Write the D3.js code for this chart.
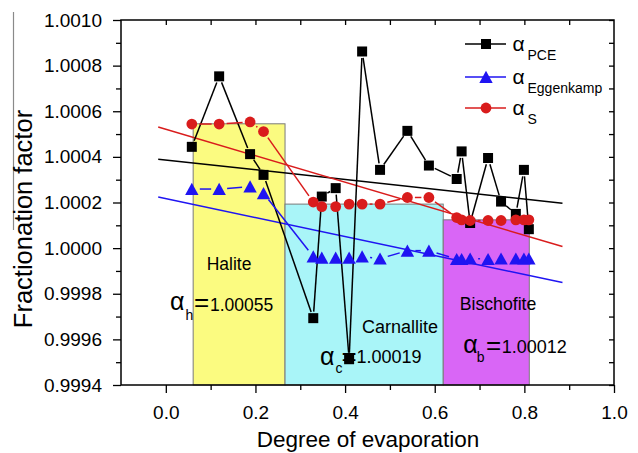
<!DOCTYPE html>
<html><head><meta charset="utf-8">
<script src="https://cdn.jsdelivr.net/npm/d3@7"></script>
<style>
body{margin:0;background:#fff}
svg{display:block}
text{font-family:"Liberation Sans",Arial,Helvetica,sans-serif;fill:#000}
</style>
</head><body>
<svg id="c" width="638" height="453"></svg>
<script>
// ---- data ----
const evap = [0.058, 0.119, 0.188, 0.218,
  0.329, 0.348, 0.379, 0.409, 0.438, 0.478, 0.539, 0.587,
  0.649, 0.660, 0.679, 0.719, 0.748, 0.781, 0.799, 0.810];
const alphaPCE = [1.000444, 1.000753, 1.000412, 1.000321,
  0.999693, 1.000226, 1.000263, 0.999513, 1.000862, 1.000343, 1.000514, 1.000362,
  1.000303, 1.000424, 1.000110, 1.000395, 1.000204, 1.000150, 1.000343, 1.000083];
const alphaEgg = [1.000259, 1.000259, 1.000270, 1.000241,
  0.999963, 0.999958, 0.999958, 0.999958, 0.999963, 0.999954, 0.999989, 0.999989,
  0.999952, 0.999952, 0.999954, 0.999952, 0.999954, 0.999954, 0.999954, 0.999954];
const alphaS = [1.000544, 1.000544, 1.000553, 1.000511,
  1.000202, 1.000182, 1.000182, 1.000193, 1.000193, 1.000193, 1.000222, 1.000222,
  1.000134, 1.000124, 1.000121, 1.000121, 1.000121, 1.000124, 1.000124, 1.000124];
const fitX = [-0.017, 0.885];
const fitPCE = [1.000390, 1.000197];
const fitEgg = [1.000224, 0.999849];
const fitS = [1.000531, 1.000007];
const zoneNames = ["Halite", "Carnallite", "Bischofite"];
const zoneStart = [0.061, 0.266, 0.619];
const zoneEnd = [0.266, 0.619, 0.811];
const zoneTop = [1.000545, 1.000193, 1.000124];
const zoneColors = ["#fbfb80", "#a9f5f8", "#d966f6"];
const xTicks = [0.0, 0.2, 0.4, 0.6, 0.8, 1.0];
const xMinor = [0.1, 0.3, 0.5, 0.7, 0.9];
const yTicks = [0.9994, 0.9996, 0.9998, 1.0000, 1.0002, 1.0004, 1.0006, 1.0008, 1.0010];
const yMinor = [0.9995, 0.9997, 0.9999, 1.0001, 1.0003, 1.0005, 1.0007, 1.0009];

const cBlack = "#000", cBlue = "#1f14f2", cRed = "#d91c1c";

// ---- setup ----
const svg = d3.select("#c");
const L = 121, R = 614, T = 20, B = 385;
const x = d3.scaleLinear().domain([-0.1, 1.0]).range([L, R]);
const y = d3.scaleLinear().domain([0.9994, 1.0010]).range([B, T]);

// artifact line left of title
svg.append("line").attr("x1", 13.5).attr("x2", 13.5).attr("y1", 12).attr("y2", 230)
  .attr("stroke", "#8a8a8a").attr("stroke-width", 1.2);

// zones
svg.append("g").selectAll("rect").data(zoneNames).join("rect")
  .attr("x", (d, i) => x(zoneStart[i]))
  .attr("width", (d, i) => x(zoneEnd[i]) - x(zoneStart[i]))
  .attr("y", (d, i) => y(zoneTop[i]))
  .attr("height", (d, i) => B - y(zoneTop[i]))
  .attr("fill", (d, i) => zoneColors[i])
  .attr("stroke", "#7a7a7a").attr("stroke-width", 1);

// zone labels
const lab = svg.append("g");
function t(txt, px, py, size, anchor) {
  lab.append("text").attr("x", px).attr("y", py).attr("font-size", size)
    .attr("text-anchor", anchor || "start").text(txt);
}
t("Halite", 229, 270, 17.5, "middle");
t("Carnallite", 400, 333, 18, "middle");
t("Bischofite", 498, 310, 17.7, "middle");
// alpha_h
t("α", 170, 310, 25); t("h", 185.5, 320, 14); t("=", 194, 311, 26); t("1.00055", 210, 311, 17.5);
// alpha_c
t("α", 320, 365, 25); t("c", 335.5, 373.3, 14); t("=", 341.5, 365, 26); t("1.00019", 356.5, 363.3, 18);
// alpha_b
t("α", 463.3, 353.3, 25); t("b", 476.7, 361.7, 14); t("=", 486, 354, 26); t("1.00012", 501.7, 353.3, 18);

// fit lines
const fits = [[fitPCE, cBlack], [fitEgg, cBlue], [fitS, cRed]];
svg.append("g").selectAll("line").data(fits).join("line")
  .attr("x1", x(fitX[0])).attr("x2", x(fitX[1]))
  .attr("y1", d => y(d[0][0])).attr("y2", d => y(d[0][1]))
  .attr("stroke", d => d[1]).attr("stroke-width", 1.5);

// gapped connecting segments
function segs(ys, gap) {
  const out = [];
  for (let i = 0; i < evap.length - 1; i++) {
    const x1 = x(evap[i]), y1 = y(ys[i]), x2 = x(evap[i + 1]), y2 = y(ys[i + 1]);
    const dx = x2 - x1, dy = y2 - y1, len = Math.hypot(dx, dy);
    if (len <= 2 * gap) continue;
    const ux = dx / len, uy = dy / len;
    out.push([x1 + ux * gap, y1 + uy * gap, x2 - ux * gap, y2 - uy * gap]);
  }
  return out;
}
function drawSegs(ys, gap, color) {
  svg.append("g").selectAll("line").data(segs(ys, gap)).join("line")
    .attr("x1", d => d[0]).attr("y1", d => d[1]).attr("x2", d => d[2]).attr("y2", d => d[3])
    .attr("stroke", color).attr("stroke-width", 1.5);
}
drawSegs(alphaPCE, 6.5, cBlack);
drawSegs(alphaEgg, 8, cBlue);
drawSegs(alphaS, 7.5, cRed);

const sq = "M-5,-5H5V5H-5Z";
const tri = "M0,-6.2L6.7,6L-6.7,6Z";

svg.append("g").selectAll("path").data(alphaPCE).join("path")
  .attr("d", sq).attr("fill", cBlack)
  .attr("transform", (d, i) => `translate(${x(evap[i])},${y(d)})`);
svg.append("g").selectAll("path").data(alphaEgg).join("path")
  .attr("d", tri).attr("fill", cBlue)
  .attr("transform", (d, i) => `translate(${x(evap[i])},${y(d)})`);
svg.append("g").selectAll("circle").data(alphaS).join("circle")
  .attr("r", 5.4).attr("fill", cRed)
  .attr("cx", (d, i) => x(evap[i])).attr("cy", d => y(d));

// axes
const fmtY = d3.format(".4f"), fmtX = d3.format(".1f");
svg.append("g").attr("transform", `translate(${L},0)`)
  .call(d3.axisLeft(y).tickValues(yTicks).tickSize(8).tickPadding(11).tickFormat(fmtY));
svg.append("g").attr("transform", `translate(${L},0)`)
  .call(d3.axisLeft(y).tickValues(yMinor).tickSize(5).tickFormat(""));
svg.append("g").attr("transform", `translate(0,${B})`)
  .call(d3.axisBottom(x).tickValues(xTicks).tickSize(8).tickPadding(12.5).tickFormat(fmtX));
svg.append("g").attr("transform", `translate(0,${B})`)
  .call(d3.axisBottom(x).tickValues(xMinor).tickSize(5).tickFormat(""));
svg.append("g").attr("transform", `translate(${R},0)`)
  .call(d3.axisRight(y).tickValues(yTicks.concat(yMinor)).tickSize(-5).tickFormat(""));
svg.append("g").attr("transform", `translate(0,${T})`)
  .call(d3.axisTop(x).tickValues(xTicks.concat(xMinor).filter(v => v < 1)).tickSize(-5).tickFormat(""));
svg.selectAll(".domain").remove();
svg.selectAll(".tick line").attr("stroke", "#000").attr("stroke-width", 1.3);
svg.selectAll(".tick text").attr("font-size", 19)
  .attr("font-family", '"Liberation Sans",Arial,sans-serif').attr("fill", "#000");

// frame
svg.append("rect").attr("x", L).attr("y", T).attr("width", R - L).attr("height", B - T)
  .attr("fill", "none").attr("stroke", "#000").attr("stroke-width", 1.5);

// axis titles
svg.append("text").attr("x", 368).attr("y", 447).attr("text-anchor", "middle")
  .attr("font-size", 22.5).text("Degree of evaporation");
svg.append("text").attr("transform", "translate(32,219) rotate(-90)").attr("text-anchor", "middle")
  .attr("font-size", 25.5).text("Fractionation factor");

// legend
const legNames = ["PCE", "Eggenkamp", "S"];
const legColors = [cBlack, cBlue, cRed];
const legShapes = ["sq", "tri", "circ"];
const legY = [44, 77, 108];
const lg = svg.append("g");
legNames.forEach((n, i) => {
  const ly = legY[i];
  lg.append("line").attr("x1", 465).attr("x2", 506).attr("y1", ly).attr("y2", ly)
    .attr("stroke", legColors[i]).attr("stroke-width", 1.5);
  if (legShapes[i] === "circ") {
    lg.append("circle").attr("cx", 486).attr("cy", ly).attr("r", 5.4).attr("fill", legColors[i]);
  } else {
    lg.append("path").attr("d", legShapes[i] === "sq" ? sq : tri).attr("fill", legColors[i])
      .attr("transform", `translate(486,${ly})`);
  }
  lg.append("text").attr("x", 512.5).attr("y", ly + 6.5).attr("font-size", 21).text("α");
  lg.append("text").attr("x", 527.5).attr("y", ly + 16).attr("font-size", 14).text(n);
});
</script>
</body></html>
